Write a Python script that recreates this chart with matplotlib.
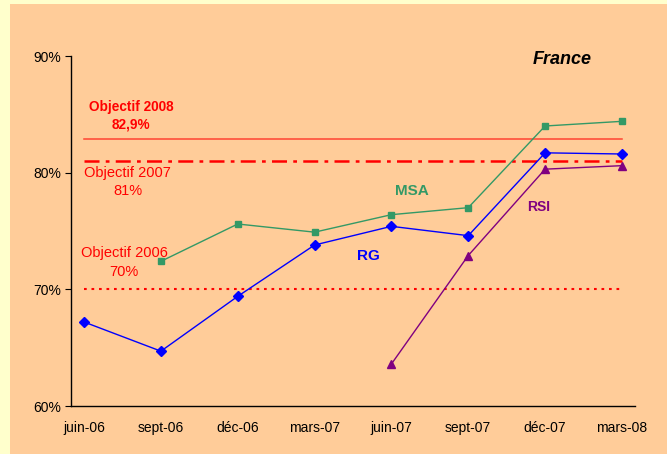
import matplotlib.pyplot as plt
from matplotlib.patches import Rectangle

plt.rcParams['font.family'] = ['Liberation Sans', 'DejaVu Sans']

mois = ['juin-06', 'sept-06', 'déc-06', 'mars-07', 'juin-07', 'sept-07', 'déc-07', 'mars-08']
rg = [67.2, 64.7, 69.4, 73.8, 75.4, 74.6, 81.7, 81.6]
msa = [None, 72.4, 75.6, 74.9, 76.4, 77.0, 84.0, 84.4]
rsi = [None, None, None, None, 63.6, 72.9, 80.3, 80.6]
objectif_2006 = 70
objectif_2007 = 81
objectif_2008 = 82.9

x = list(range(len(mois)))

fig = plt.figure(figsize=(6.67, 4.54), dpi=100, facecolor='#FFFFCC')
fig.patches.append(Rectangle((10 / 667, 0), 1, 1 - 4 / 454, transform=fig.transFigure,
                             facecolor='#FFCC99', edgecolor='none', zorder=-1))
ax = fig.add_axes([71 / 667, 1 - 406 / 454, 564 / 667, 350 / 454])
ax.set_facecolor('none')

# objectifs
ax.plot([x[0], x[-1]], [objectif_2008] * 2, color='#FF4433', lw=1.1)
ax.plot([x[0], x[-1]], [objectif_2007] * 2, color='#FF0000', lw=1.8, linestyle=(0, (6, 2.5, 1.5, 2.5)))
ax.plot([x[0], x[-1]], [objectif_2006] * 2, color='#FF0000', lw=1.5, linestyle=(0, (1.3, 2.3)))

def serie(vals):
    xs = [i for i, v in zip(x, vals) if v is not None]
    ys = [v for v in vals if v is not None]
    return xs, ys

xs, ys = serie(msa)
ax.plot(xs, ys, color='#339966', lw=1, marker='s', markersize=5)
xs, ys = serie(rg)
ax.plot(xs, ys, color='#0000FF', lw=1, marker='D', markersize=5)
xs, ys = serie(rsi)
ax.plot(xs, ys, color='#800080', lw=1, marker='^', markersize=5.5)

ax.text(6.22, 89.7, 'France', fontsize=13, fontweight='bold', fontstyle='italic', ha='center', va='center')
ax.text(0.61, 85.6, 'Objectif 2008', color='#FF0000', fontsize=9.8, fontweight='bold', ha='center', va='center')
ax.text(0.61, 84.1, '82,9%', color='#FF0000', fontsize=9.8, fontweight='bold', ha='center', va='center')
ax.text(0.57, 80.0, 'Objectif 2007', color='#FF0000', fontsize=10.5, ha='center', va='center')
ax.text(0.57, 78.4, '81%', color='#FF0000', fontsize=10.5, ha='center', va='center')
ax.text(0.52, 73.1, 'Objectif 2006', color='#FF0000', fontsize=10.5, ha='center', va='center')
ax.text(0.52, 71.5, '70%', color='#FF0000', fontsize=10.5, ha='center', va='center')
ax.text(4.26, 78.4, 'MSA', color='#339966', fontsize=11, fontweight='bold', ha='center', va='center')
ax.text(3.7, 72.9, 'RG', color='#0000FF', fontsize=11, fontweight='bold', ha='center', va='center')
ax.text(5.92, 77.1, 'RSI', color='#800080', fontsize=10, fontweight='bold', ha='center', va='center')

ax.set_xlim(-0.17, 7.17)
ax.set_ylim(60, 90)
ax.set_yticks([60, 70, 80, 90])
ax.set_yticklabels(['60%', '70%', '80%', '90%'], fontsize=10)
ax.set_xticks(x)
ax.set_xticklabels(mois, fontsize=10)
ax.tick_params(axis='x', length=0, pad=11)
ax.tick_params(axis='y', length=4, direction='out', pad=3)
for s in ['top', 'right']:
    ax.spines[s].set_visible(False)
ax.spines['left'].set_linewidth(1)
ax.spines['bottom'].set_linewidth(1)

fig.savefig('out.png', dpi=100, facecolor=fig.get_facecolor())
